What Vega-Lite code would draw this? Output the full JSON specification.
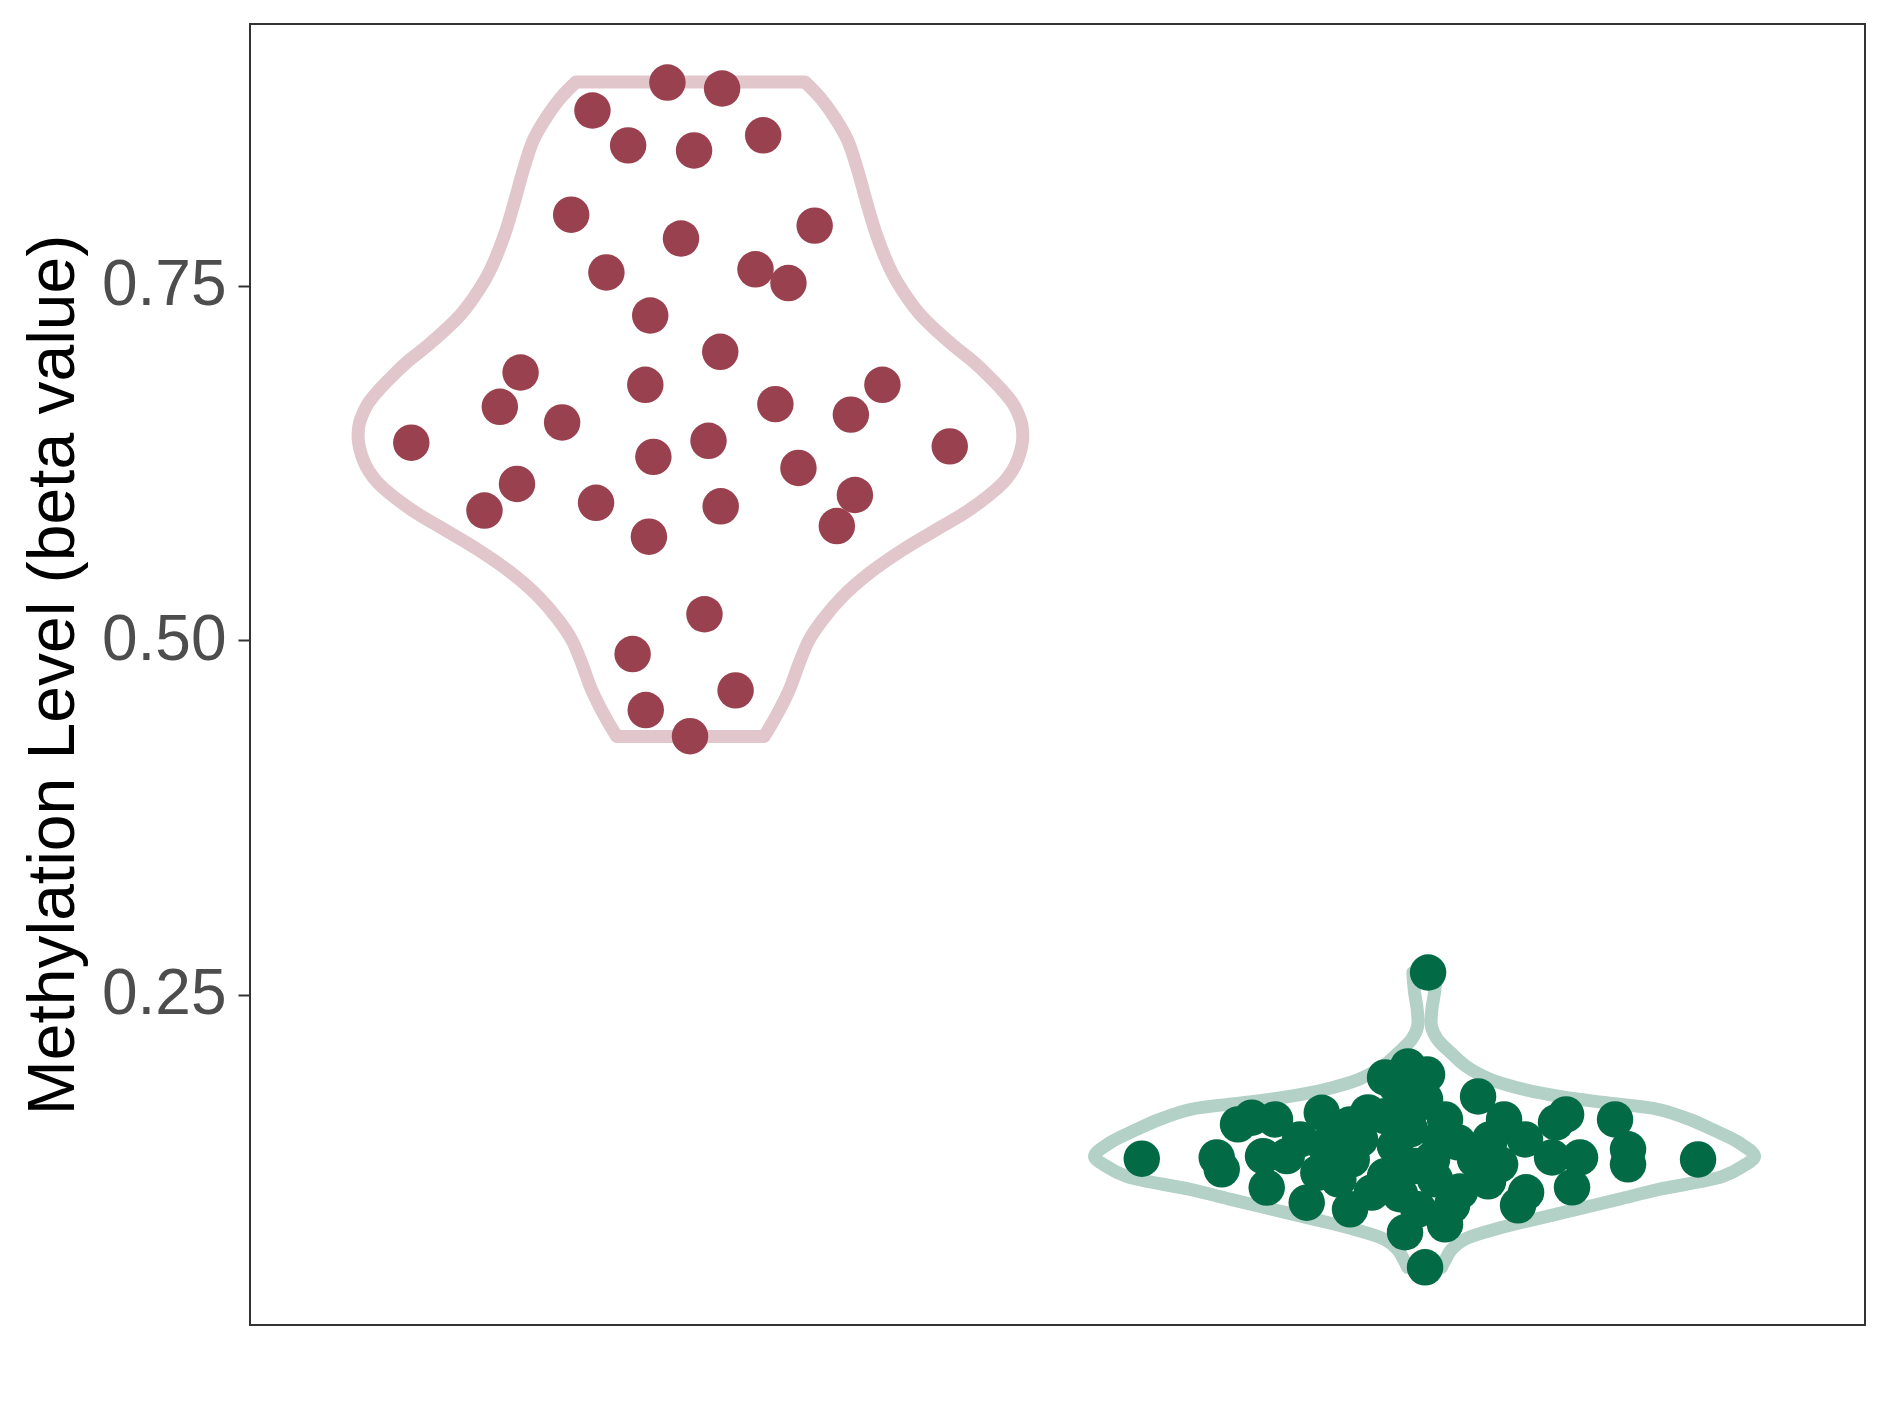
{
  "$schema": "https://vega.github.io/schema/vega-lite/v6.json",
  "width": 1615,
  "height": 1301,
  "autosize": {"type": "none"},
  "padding": {"left": 250, "top": 24, "right": 24, "bottom": 92},
  "background": "white",
  "config": {"view": {"stroke": "#333333", "strokeWidth": 2}, "font": "Liberation Sans"},
  "datasets": {
    "violin": [
      {"group": "Case", "value": 0.4320, "left": 0.8995, "right": 1.1005},
      {"group": "Case", "value": 0.4461, "left": 0.8835, "right": 1.1165},
      {"group": "Case", "value": 0.4649, "left": 0.8654, "right": 1.1346},
      {"group": "Case", "value": 0.4838, "left": 0.8518, "right": 1.1482},
      {"group": "Case", "value": 0.5002, "left": 0.8382, "right": 1.1618},
      {"group": "Case", "value": 0.5143, "left": 0.8199, "right": 1.1801},
      {"group": "Case", "value": 0.5307, "left": 0.7927, "right": 1.2073},
      {"group": "Case", "value": 0.5472, "left": 0.7564, "right": 1.2436},
      {"group": "Case", "value": 0.5636, "left": 0.7109, "right": 1.2891},
      {"group": "Case", "value": 0.5777, "left": 0.6656, "right": 1.3344},
      {"group": "Case", "value": 0.5918, "left": 0.6202, "right": 1.3798},
      {"group": "Case", "value": 0.6106, "left": 0.5747, "right": 1.4253},
      {"group": "Case", "value": 0.6190, "left": 0.5620, "right": 1.4380},
      {"group": "Case", "value": 0.6270, "left": 0.5543, "right": 1.4457},
      {"group": "Case", "value": 0.6340, "left": 0.5500, "right": 1.4500},
      {"group": "Case", "value": 0.6411, "left": 0.5475, "right": 1.4525},
      {"group": "Case", "value": 0.6470, "left": 0.5475, "right": 1.4525},
      {"group": "Case", "value": 0.6529, "left": 0.5490, "right": 1.4510},
      {"group": "Case", "value": 0.6600, "left": 0.5540, "right": 1.4460},
      {"group": "Case", "value": 0.6670, "left": 0.5610, "right": 1.4390},
      {"group": "Case", "value": 0.6760, "left": 0.5750, "right": 1.4250},
      {"group": "Case", "value": 0.6857, "left": 0.5930, "right": 1.4070},
      {"group": "Case", "value": 0.6965, "left": 0.6150, "right": 1.3850},
      {"group": "Case", "value": 0.7069, "left": 0.6400, "right": 1.3600},
      {"group": "Case", "value": 0.7304, "left": 0.6883, "right": 1.3117},
      {"group": "Case", "value": 0.7539, "left": 0.7200, "right": 1.2800},
      {"group": "Case", "value": 0.7656, "left": 0.7314, "right": 1.2686},
      {"group": "Case", "value": 0.7868, "left": 0.7473, "right": 1.2527},
      {"group": "Case", "value": 0.8103, "left": 0.7609, "right": 1.2391},
      {"group": "Case", "value": 0.8314, "left": 0.7722, "right": 1.2278},
      {"group": "Case", "value": 0.8525, "left": 0.7859, "right": 1.2141},
      {"group": "Case", "value": 0.8690, "left": 0.8041, "right": 1.1959},
      {"group": "Case", "value": 0.8819, "left": 0.8222, "right": 1.1778},
      {"group": "Case", "value": 0.8936, "left": 0.8440, "right": 1.1560},
      {"group": "Control", "value": 0.0576, "left": 1.977, "right": 2.023},
      {"group": "Control", "value": 0.0632, "left": 1.9714, "right": 2.0286},
      {"group": "Control", "value": 0.0702, "left": 1.9632, "right": 2.0368},
      {"group": "Control", "value": 0.0773, "left": 1.9455, "right": 2.0545},
      {"group": "Control", "value": 0.0843, "left": 1.905, "right": 2.095},
      {"group": "Control", "value": 0.0914, "left": 1.850, "right": 2.150},
      {"group": "Control", "value": 0.0984, "left": 1.793, "right": 2.207},
      {"group": "Control", "value": 0.1055, "left": 1.736, "right": 2.264},
      {"group": "Control", "value": 0.1125, "left": 1.681, "right": 2.319},
      {"group": "Control", "value": 0.1217, "left": 1.594, "right": 2.406},
      {"group": "Control", "value": 0.1287, "left": 1.567, "right": 2.433},
      {"group": "Control", "value": 0.1358, "left": 1.5505, "right": 2.4495},
      {"group": "Control", "value": 0.1456, "left": 1.572, "right": 2.428},
      {"group": "Control", "value": 0.1548, "left": 1.608, "right": 2.392},
      {"group": "Control", "value": 0.1619, "left": 1.639, "right": 2.361},
      {"group": "Control", "value": 0.1689, "left": 1.681, "right": 2.319},
      {"group": "Control", "value": 0.1738, "left": 1.755, "right": 2.245},
      {"group": "Control", "value": 0.1781, "left": 1.816, "right": 2.184},
      {"group": "Control", "value": 0.1830, "left": 1.864, "right": 2.136},
      {"group": "Control", "value": 0.1901, "left": 1.910, "right": 2.090},
      {"group": "Control", "value": 0.1992, "left": 1.943, "right": 2.057},
      {"group": "Control", "value": 0.2091, "left": 1.9646, "right": 2.0354},
      {"group": "Control", "value": 0.2183, "left": 1.9823, "right": 2.0177},
      {"group": "Control", "value": 0.2274, "left": 1.9905, "right": 2.0095},
      {"group": "Control", "value": 0.2394, "left": 1.9900, "right": 2.0100},
      {"group": "Control", "value": 0.2514, "left": 1.9864, "right": 2.0136},
      {"group": "Control", "value": 0.2655, "left": 1.984, "right": 2.016}
    ],
    "points": [
      {"group": "Case", "pos": 0.9686, "value": 0.8932},
      {"group": "Case", "pos": 1.0431, "value": 0.8890},
      {"group": "Case", "pos": 0.8665, "value": 0.8735},
      {"group": "Case", "pos": 0.9151, "value": 0.8489},
      {"group": "Case", "pos": 1.0049, "value": 0.8453},
      {"group": "Case", "pos": 1.0991, "value": 0.8560},
      {"group": "Case", "pos": 0.8375, "value": 0.8000},
      {"group": "Case", "pos": 0.9871, "value": 0.7832},
      {"group": "Case", "pos": 1.1692, "value": 0.7923},
      {"group": "Case", "pos": 0.8855, "value": 0.7593},
      {"group": "Case", "pos": 1.0886, "value": 0.7615},
      {"group": "Case", "pos": 1.1335, "value": 0.7518},
      {"group": "Case", "pos": 0.9452, "value": 0.7289},
      {"group": "Case", "pos": 1.0406, "value": 0.7033},
      {"group": "Case", "pos": 0.7686, "value": 0.6887},
      {"group": "Case", "pos": 0.7403, "value": 0.6645},
      {"group": "Case", "pos": 0.8252, "value": 0.6535},
      {"group": "Case", "pos": 0.9385, "value": 0.6800},
      {"group": "Case", "pos": 1.1157, "value": 0.6664},
      {"group": "Case", "pos": 1.2615, "value": 0.6800},
      {"group": "Case", "pos": 1.2185, "value": 0.6590},
      {"group": "Case", "pos": 0.6197, "value": 0.6392},
      {"group": "Case", "pos": 0.9495, "value": 0.6292},
      {"group": "Case", "pos": 1.0246, "value": 0.6405},
      {"group": "Case", "pos": 1.3532, "value": 0.6366},
      {"group": "Case", "pos": 1.1471, "value": 0.6214},
      {"group": "Case", "pos": 0.7637, "value": 0.6101},
      {"group": "Case", "pos": 0.7194, "value": 0.5913},
      {"group": "Case", "pos": 0.8714, "value": 0.5968},
      {"group": "Case", "pos": 1.0412, "value": 0.5943},
      {"group": "Case", "pos": 1.2240, "value": 0.6023},
      {"group": "Case", "pos": 1.1994, "value": 0.5804},
      {"group": "Case", "pos": 0.9434, "value": 0.5729},
      {"group": "Case", "pos": 1.0191, "value": 0.5182},
      {"group": "Case", "pos": 0.9212, "value": 0.4901},
      {"group": "Case", "pos": 1.0615, "value": 0.4645},
      {"group": "Case", "pos": 0.9391, "value": 0.4506},
      {"group": "Case", "pos": 0.9994, "value": 0.4322},
      {"group": "Control", "pos": 1.6148, "value": 0.1342},
      {"group": "Control", "pos": 1.7169, "value": 0.1351},
      {"group": "Control", "pos": 1.7237, "value": 0.1267},
      {"group": "Control", "pos": 1.7459, "value": 0.1584},
      {"group": "Control", "pos": 1.7646, "value": 0.1631},
      {"group": "Control", "pos": 1.7963, "value": 0.1619},
      {"group": "Control", "pos": 1.7800, "value": 0.1360},
      {"group": "Control", "pos": 1.8123, "value": 0.1360},
      {"group": "Control", "pos": 1.7850, "value": 0.1138},
      {"group": "Control", "pos": 1.8600, "value": 0.1666},
      {"group": "Control", "pos": 1.8395, "value": 0.1032},
      {"group": "Control", "pos": 1.8985, "value": 0.0985},
      {"group": "Control", "pos": 1.9230, "value": 0.1668},
      {"group": "Control", "pos": 1.9462, "value": 0.1915},
      {"group": "Control", "pos": 1.9775, "value": 0.1993},
      {"group": "Control", "pos": 2.0048, "value": 0.2655},
      {"group": "Control", "pos": 1.9734, "value": 0.0823},
      {"group": "Control", "pos": 2.0007, "value": 0.0576},
      {"group": "Control", "pos": 1.8645, "value": 0.1431},
      {"group": "Control", "pos": 1.8826, "value": 0.1525},
      {"group": "Control", "pos": 1.9008, "value": 0.1337},
      {"group": "Control", "pos": 1.9462, "value": 0.1642},
      {"group": "Control", "pos": 1.9598, "value": 0.1431},
      {"group": "Control", "pos": 1.9462, "value": 0.1219},
      {"group": "Control", "pos": 1.9281, "value": 0.1103},
      {"group": "Control", "pos": 1.8826, "value": 0.1196},
      {"group": "Control", "pos": 1.8553, "value": 0.1243},
      {"group": "Control", "pos": 1.9826, "value": 0.1690},
      {"group": "Control", "pos": 1.9871, "value": 0.1290},
      {"group": "Control", "pos": 1.9916, "value": 0.0985},
      {"group": "Control", "pos": 2.3726, "value": 0.1337},
      {"group": "Control", "pos": 2.2772, "value": 0.1408},
      {"group": "Control", "pos": 2.2772, "value": 0.1302},
      {"group": "Control", "pos": 2.2595, "value": 0.1619},
      {"group": "Control", "pos": 2.1928, "value": 0.1654},
      {"group": "Control", "pos": 2.1791, "value": 0.1598},
      {"group": "Control", "pos": 2.2118, "value": 0.1351},
      {"group": "Control", "pos": 2.2009, "value": 0.1140},
      {"group": "Control", "pos": 2.1737, "value": 0.1351},
      {"group": "Control", "pos": 2.0729, "value": 0.1781},
      {"group": "Control", "pos": 2.1083, "value": 0.1619},
      {"group": "Control", "pos": 2.1369, "value": 0.1478},
      {"group": "Control", "pos": 2.1383, "value": 0.1105},
      {"group": "Control", "pos": 2.1274, "value": 0.1013},
      {"group": "Control", "pos": 2.0865, "value": 0.1182},
      {"group": "Control", "pos": 2.0375, "value": 0.1013},
      {"group": "Control", "pos": 2.0279, "value": 0.0879},
      {"group": "Control", "pos": 2.0034, "value": 0.1936},
      {"group": "Control", "pos": 2.0007, "value": 0.1760},
      {"group": "Control", "pos": 2.0279, "value": 0.1619},
      {"group": "Control", "pos": 2.0456, "value": 0.1457},
      {"group": "Control", "pos": 2.0688, "value": 0.1337},
      {"group": "Control", "pos": 2.0102, "value": 0.1337},
      {"group": "Control", "pos": 2.0143, "value": 0.1196},
      {"group": "Control", "pos": 2.0484, "value": 0.1111},
      {"group": "Control", "pos": 1.9666, "value": 0.1091},
      {"group": "Control", "pos": 2.0211, "value": 0.1478},
      {"group": "Control", "pos": 2.0892, "value": 0.1478},
      {"group": "Control", "pos": 1.8985, "value": 0.1584},
      {"group": "Control", "pos": 1.8304, "value": 0.1478},
      {"group": "Control", "pos": 1.9121, "value": 0.1478},
      {"group": "Control", "pos": 1.9802, "value": 0.1548},
      {"group": "Control", "pos": 2.1029, "value": 0.1302},
      {"group": "Control", "pos": 1.9598, "value": 0.1866}
    ]
  },
  "layer": [
    {
      "data": {"name": "violin"},
      "mark": {"type": "area", "orient": "horizontal", "interpolate": "catmull-rom", "fill": "white", "fillOpacity": 0, "strokeWidth": 13, "strokeJoin": "round"},
      "encoding": {
        "y": {
          "field": "value", "type": "quantitative",
          "scale": {"domain": [0.0169, 0.9345], "nice": false, "zero": false},
          "axis": {
            "values": [0.25, 0.5, 0.75], "format": ".2f",
            "title": "Methylation Level (beta value)",
            "titleFontSize": 66, "titleFont": "Liberation Sans", "titleFontWeight": "normal", "titleColor": "#000000", "titlePadding": 14,
            "labelFontSize": 64, "labelFont": "Liberation Sans", "labelColor": "#4D4D4D", "labelPadding": 12,
            "tickSize": 12, "tickWidth": 2, "tickColor": "#333333",
            "domain": false, "grid": false
          }
        },
        "x": {"field": "left", "type": "quantitative", "scale": {"domain": [0.4, 2.6], "nice": false, "zero": false}, "axis": null},
        "x2": {"field": "right"},
        "stroke": {"field": "group", "type": "nominal", "scale": {"domain": ["Case", "Control"], "range": ["#E1C6CB", "#B3D1C6"]}, "legend": null}
      }
    },
    {
      "data": {"name": "points"},
      "mark": {"type": "circle", "size": 1330, "opacity": 1},
      "encoding": {
        "x": {"field": "pos", "type": "quantitative"},
        "y": {"field": "value", "type": "quantitative"},
        "color": {"field": "group", "type": "nominal", "scale": {"domain": ["Case", "Control"], "range": ["#9A4150", "#036A46"]}, "legend": null}
      }
    }
  ]
}
